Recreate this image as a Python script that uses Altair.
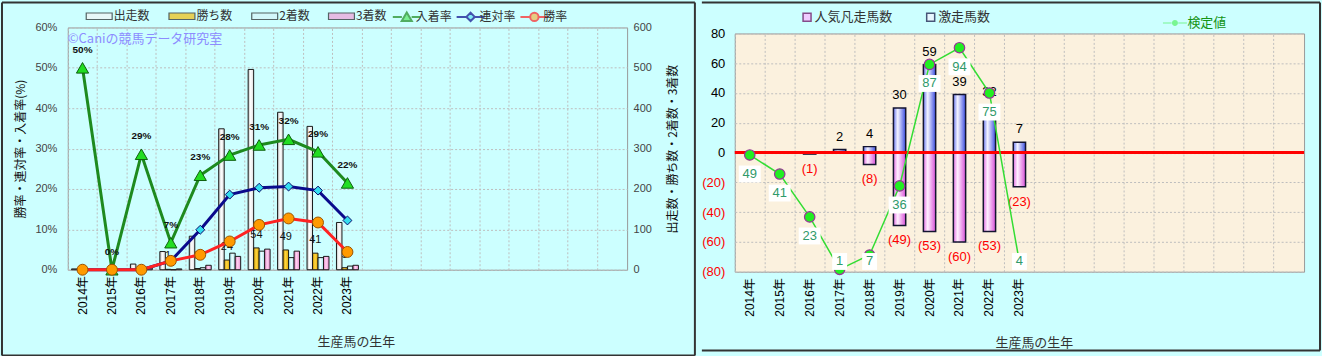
import altair as alt
import pandas as pd

FONT = "Liberation Sans, Noto Sans CJK JP, sans-serif"
JP = "Noto Sans CJK JP, sans-serif"

# ---------------- data ----------------
years = ["2014年", "2015年", "2016年", "2017年", "2018年",
         "2019年", "2020年", "2021年", "2022年", "2023年"]
blank_slots = ["_" + str(i) for i in range(1, 10)]
x_domain = years + blank_slots

bar_series = ["出走数", "勝ち数", "2着数", "3着数"]
runs = [2, 1, 14, 45, 83, 349, 496, 390, 355, 117]
wins = [0, 0, 0, 1, 3, 24, 54, 49, 41, 5]
seconds = [0, 0, 0, 0, 5, 41, 46, 30, 30, 9]
thirds = [1, 0, 4, 2, 11, 33, 51, 46, 33, 11]

line_series = ["入着率", "連対率", "勝率"]
place_rate = [50, 0, 28.6, 6.7, 23.4, 28.4, 30.9, 32.3, 29.2, 21.5]
quin_rate = [0, 0, 0, 2.2, 9.9, 18.6, 20.3, 20.6, 19.6, 12.2]
win_rate = [0, 0, 0, 2.2, 3.7, 7.0, 11.1, 12.7, 11.7, 4.4]

right_series = ["人気凡走馬数", "激走馬数"]
upset = [0, 0, 0, 2, 4, 30, 59, 39, 32, 7]
flop = [0, 0, 1, 0, 8, 49, 53, 60, 53, 23]
test_series = ["検定値"]
test_value = [49, 41, 23, 1, 7, 36, 87, 94, 75, 4]

watermark = "©Caniの競馬データ研究室"
left_y_title = "勝率・連対率・入着率(%)"
right_y_title = "出走数・勝ち数・2着数・3着数"
x_title = "生産馬の生年"

# ---------------- tables ----------------
bars_df = pd.DataFrame({
    "year": years * 4,
    "series": sum([[s] * len(years) for s in bar_series], []),
    "value": runs + wins + seconds + thirds,
})
wins_df = pd.DataFrame({"year": years, "value": wins, "series": "勝ち数"})
lines_df = pd.DataFrame({
    "year": years * 3,
    "series": sum([[s] * len(years) for s in line_series], []),
    "rate": place_rate + quin_rate + win_rate,
})
place_df = pd.DataFrame({"year": years, "rate": place_rate})
right_df = pd.DataFrame({"year": years, "upset": upset, "flop": flop, "test": test_value})
legend_a_df = pd.DataFrame({"rs": right_series})
legend_b_df = pd.DataFrame({"ls": test_series})
legend_l_df = pd.DataFrame({"series": line_series})
legend_bar_df = pd.DataFrame({"series": bar_series})
one_row = pd.DataFrame({"d": [0]})

# ---------------- shared pieces ----------------
GRID = "#BEBEBE"
FRAME = "#333333"
xs = alt.Scale(domain=x_domain, paddingInner=0, paddingOuter=0)
off_scale = alt.Scale(domain=bar_series, paddingInner=0, paddingOuter=0.68)


def x_label_axis(title_x, title_y):
    return alt.Axis(title=x_title, labelAngle=270,
                    labelExpr="indexof(datum.label, '_') == 0 ? '' : datum.label",
                    ticks=False, domain=False, grid=False, labelPadding=6,
                    labelFontSize=12, labelColor="#000", labelFont=FONT,
                    titleFont=JP, titleFontSize=13, titleColor="#333",
                    titleFontWeight="normal", titleX=title_x, titleY=title_y)


x_grid_axis = alt.Axis(orient="top", title=None, labels=False, ticks=False,
                       domain=False, grid=True, bandPosition=0,
                       gridDash=[2, 2], gridColor=GRID)


def grad(stops):
    return alt.Gradient(gradient="linear", x1=0, x2=1, y1=0, y2=0,
                        stops=[alt.GradientStop(offset=o, color=c) for o, c in stops])


def frame_line(**enc):
    # decorative panel frame line, placed in pixels relative to a plot origin
    return alt.Chart(one_row).mark_rule(color=FRAME, strokeWidth=2).encode(
        **{k: alt.value(v) for k, v in enc.items()})


# ---------------- left chart ----------------
count_scale = alt.Scale(domain=[0, 600], nice=False)
pct_scale = alt.Scale(domain=[0, 60], nice=False)

count_axis = alt.Axis(orient="right", values=list(range(0, 601, 100)),
                      title=right_y_title, titleAngle=270, grid=False,
                      ticks=False, domain=False, labelPadding=6,
                      labelFontSize=11, labelColor="#444", labelFont=FONT,
                      titleFont=JP, titleFontSize=12, titleColor="#111",
                      titleFontWeight="normal", titlePadding=28)
pct_axis = alt.Axis(orient="left", values=list(range(0, 61, 10)),
                    labelExpr="datum.value + '%'", title=left_y_title,
                    grid=True, gridDash=[2, 2], gridColor=GRID, ticks=False,
                    domain=False, labelPadding=11, labelFontSize=11,
                    labelColor="#444", labelFont=FONT, titleFont=JP,
                    titleFontSize=12, titleColor="#111",
                    titleFontWeight="normal", titlePadding=7)
left_x_axis = x_label_axis(289, 66)

bar_fills = {
    "出走数": grad([(0, "#BDBDBD"), (0.45, "#FFFFFF"), (1, "#DCDCDC")]),
    "勝ち数": grad([(0, "#C89200"), (0.45, "#FFD640"), (1, "#E2A800")]),
    "2着数": grad([(0, "#8ED6E0"), (0.45, "#EFFFFF"), (1, "#A6E6EE")]),
    "3着数": grad([(0, "#DC7CBE"), (0.45, "#FFD2F0"), (1, "#E890D2")]),
}
bar_legend_colors = ["#F4F4F4", "#F0BE10", "#D6F6F8", "#F0A0D8"]

bar_layers = []
for s in bar_series:
    bar_layers.append(
        alt.Chart(bars_df).transform_filter(alt.datum.series == s)
        .mark_bar(fill=bar_fills[s], stroke="#1A1A1A", strokeWidth=1)
        .encode(
            x=alt.X("year:N", scale=xs, axis=left_x_axis),
            xOffset=alt.XOffset("series:N", scale=off_scale),
            y=alt.Y("value:Q", scale=count_scale, axis=count_axis),
        )
    )

wins_labels = (
    alt.Chart(wins_df).transform_filter("datum.value > 0")
    .mark_text(dy=-13, fontSize=11, font=FONT, color="#111")
    .encode(x=alt.X("year:N", scale=xs, axis=left_x_axis),
            xOffset=alt.XOffset("series:N", scale=off_scale),
            y=alt.Y("value:Q", scale=count_scale, axis=count_axis),
            text="value:Q")
)

bar_rect_path = "M-2,-0.5H2V0.5H-2Z"
bar_legend = alt.Legend(title=None, orient="none", direction="horizontal",
                        legendX=24, legendY=-19, symbolSize=169,
                        labelFont=JP, labelFontSize=12, labelColor="#333",
                        labelOffset=7, columnPadding=16,
                        symbolStrokeColor="#222", symbolStrokeWidth=1.2)
bar_legend_layer = (
    alt.Chart(legend_bar_df).transform_filter("false")
    .mark_point(filled=True, shape=bar_rect_path, stroke="#222", strokeWidth=1.2)
    .encode(color=alt.Color("series:N",
                            scale=alt.Scale(domain=bar_series, range=bar_legend_colors),
                            legend=bar_legend))
)

left_bars = alt.layer(*bar_layers, wins_labels, bar_legend_layer)

line_colors = {"入着率": "#1E8A1E", "連対率": "#0A0A8C", "勝率": "#FF2222"}
marker_fill = {"入着率": "#22DD22", "連対率": "#33DDEE", "勝率": "#FF9A00"}
marker_stroke = {"入着率": "#0E5E0E", "連対率": "#0A0A6C", "勝率": "#9A5200"}
marker_shape = {"入着率": "triangle-up", "連対率": "diamond", "勝率": "circle"}
marker_size = {"入着率": 150, "連対率": 80, "勝率": 120}

line_layers = []
for s in line_series:
    line_layers.append(
        alt.Chart(lines_df).transform_filter(alt.datum.series == s)
        .mark_line(color=line_colors[s], strokeWidth=3)
        .encode(x=alt.X("year:N", scale=xs, axis=x_grid_axis),
                y=alt.Y("rate:Q", scale=pct_scale, axis=pct_axis))
    )
point_layers = []
for s in line_series:
    point_layers.append(
        alt.Chart(lines_df).transform_filter(alt.datum.series == s)
        .mark_point(filled=True, shape=marker_shape[s], size=marker_size[s],
                    fill=marker_fill[s], stroke=marker_stroke[s], strokeWidth=1,
                    opacity=1)
        .encode(x=alt.X("year:N", scale=xs, axis=x_grid_axis),
                y=alt.Y("rate:Q", scale=pct_scale, axis=pct_axis))
    )

place_labels = (
    alt.Chart(place_df)
    .transform_calculate(lbl="format(datum.rate, '.0f') + '%'")
    .mark_text(dy=-18, fontSize=10, fontWeight="bold", font=FONT, color="#111")
    .encode(x=alt.X("year:N", scale=xs, axis=x_grid_axis),
            y=alt.Y("rate:Q", scale=pct_scale, axis=pct_axis),
            text="lbl:N")
)

legend_paths = [
    "M-2,0H-0.7M0.7,0H2M0,-0.65L0.72,0.55H-0.72Z",
    "M-2,0H-0.6M0.6,0H2M0,-0.6L0.6,0L0,0.6L-0.6,0Z",
    "M-2,0H-0.6M0.6,0H2M0.6,0A0.6,0.6 0 1,1 -0.6,0A0.6,0.6 0 1,1 0.6,0Z",
]
line_legend = alt.Legend(title=None, orient="none", direction="horizontal",
                         legendX=332, legendY=-19, symbolSize=196,
                         labelFont=JP, labelFontSize=12, labelColor="#333",
                         labelOffset=1, columnPadding=0, symbolStrokeWidth=2)
line_legend_layer = (
    alt.Chart(legend_l_df).transform_filter("false")
    .mark_point(filled=True, strokeWidth=2)
    .encode(
        fill=alt.Fill("series:N", scale=alt.Scale(domain=line_series,
                      range=[marker_fill[s] for s in line_series]), legend=line_legend),
        stroke=alt.Stroke("series:N", scale=alt.Scale(domain=line_series,
                          range=[line_colors[s] for s in line_series]), legend=line_legend),
        shape=alt.Shape("series:N", scale=alt.Scale(domain=line_series,
                        range=legend_paths), legend=line_legend),
    )
)

watermark_layer = (
    alt.Chart(pd.DataFrame({"t": [watermark]}))
    .mark_text(align="left", baseline="middle", color="#8C8CFF", fontSize=13, font=JP)
    .encode(x=alt.value(0), y=alt.value(12), text="t:N")
)

left_frame = [
    frame_line(x=629, y=-25, y2=329),      # divider between the panels
    frame_line(x=-66, y=-25, y2=329),      # outer left edge
    frame_line(x=-66, x2=629, y=-25),      # top edge
    frame_line(x=-66, x2=629, y=329),      # bottom edge
]

left_lines = alt.layer(*line_layers, *point_layers, place_labels,
                       line_legend_layer, watermark_layer, *left_frame)

left = (alt.layer(left_bars, left_lines)
        .resolve_scale(y="independent")
        .resolve_axis(x="independent", y="independent")
        .properties(width=561, height=243))

# ---------------- right chart ----------------
yr = alt.Scale(domain=[-80, 80], nice=False)
test_scale = alt.Scale(domain=[0, 100], nice=False)
yr_axis = alt.Axis(values=list(range(-80, 81, 20)),
                   labelExpr="datum.value < 0 ? '(' + (-datum.value) + ')' : '' + datum.value",
                   labelColor={"condition": {"test": "datum.value < 0", "value": "#FF0000"},
                               "value": "#000000"},
                   title=None, grid=True, gridDash=[2, 2], gridColor=GRID,
                   ticks=False, domain=False, labelPadding=10,
                   labelFontSize=13, labelFont=FONT)
right_x_axis = x_label_axis(300, 65)

blue_fill = grad([(0, "#6C7AF0"), (0.35, "#F4F4FF"), (1, "#3C4CE0")])
pink_fill = grad([(0, "#E470E4"), (0.35, "#FFF0FF"), (1, "#D850D8")])

blue_bars = (
    alt.Chart(right_df).transform_filter("datum.upset > 0")
    .transform_calculate(v="datum.upset")
    .mark_bar(width=alt.RelativeBandSize(0.41), fill=blue_fill,
              stroke="#141430", strokeWidth=1.5)
    .encode(x=alt.X("year:N", scale=xs, axis=right_x_axis),
            y=alt.Y("v:Q", scale=yr, axis=yr_axis))
)
pink_bars = (
    alt.Chart(right_df).transform_filter("datum.flop > 0")
    .transform_calculate(v="-datum.flop")
    .mark_bar(width=alt.RelativeBandSize(0.41), fill=pink_fill,
              stroke="#141430", strokeWidth=1.5)
    .encode(x=alt.X("year:N", scale=xs, axis=right_x_axis),
            y=alt.Y("v:Q", scale=yr, axis=yr_axis))
)
blue_labels = (
    alt.Chart(right_df).transform_filter("datum.upset > 0")
    .transform_calculate(v="datum.upset")
    .mark_text(dy=-13, fontSize=13, font=FONT, color="#000")
    .encode(x=alt.X("year:N", scale=xs, axis=right_x_axis),
            y=alt.Y("v:Q", scale=yr, axis=yr_axis), text="upset:Q")
)
pink_labels = (
    alt.Chart(right_df).transform_filter("datum.flop > 0")
    .transform_calculate(v="-datum.flop", lbl="'(' + datum.flop + ')'")
    .mark_text(dy=15, fontSize=13, font=FONT, color="#FF0000")
    .encode(x=alt.X("year:N", scale=xs, axis=right_x_axis),
            y=alt.Y("v:Q", scale=yr, axis=yr_axis), text="lbl:N")
)
zero_rule = (
    alt.Chart(pd.DataFrame({"v": [0]}))
    .mark_rule(color="#FF0000", strokeWidth=3)
    .encode(y=alt.Y("v:Q", scale=yr, axis=yr_axis))
)
right_bars = alt.layer(blue_bars, pink_bars, blue_labels, pink_labels, zero_rule)

green_line = (
    alt.Chart(right_df)
    .mark_line(color="#33DD33", strokeWidth=1.5)
    .encode(x=alt.X("year:N", scale=xs, axis=x_grid_axis),
            y=alt.Y("test:Q", scale=test_scale, axis=None))
)
green_points = (
    alt.Chart(right_df)
    .mark_point(filled=True, shape="circle", size=110, fill="#22EE22",
                stroke="#993399", strokeWidth=1.2, opacity=1)
    .encode(x=alt.X("year:N", scale=xs, axis=x_grid_axis),
            y=alt.Y("test:Q", scale=test_scale, axis=None))
)
box_wide = "M-1,-0.77H1V0.77H-1Z"
box_narrow = "M-0.68,-0.77H0.68V0.77H-0.68Z"
label_pos = "max(datum.test - 8, 4.3)"
boxes_wide = (
    alt.Chart(right_df).transform_filter("datum.test >= 10")
    .transform_calculate(ly=label_pos)
    .mark_point(filled=True, shape=box_wide, size=484, fill="#FFFFFF",
                strokeWidth=0, opacity=1)
    .encode(x=alt.X("year:N", scale=xs, axis=x_grid_axis),
            y=alt.Y("ly:Q", scale=test_scale, axis=None))
)
boxes_narrow = (
    alt.Chart(right_df).transform_filter("datum.test < 10")
    .transform_calculate(ly=label_pos)
    .mark_point(filled=True, shape=box_narrow, size=484, fill="#FFFFFF",
                strokeWidth=0, opacity=1)
    .encode(x=alt.X("year:N", scale=xs, axis=x_grid_axis),
            y=alt.Y("ly:Q", scale=test_scale, axis=None))
)
test_labels = (
    alt.Chart(right_df)
    .transform_calculate(ly=label_pos)
    .mark_text(fontSize=13, font=FONT, color="#2F9A6A")
    .encode(x=alt.X("year:N", scale=xs, axis=x_grid_axis),
            y=alt.Y("ly:Q", scale=test_scale, axis=None), text="test:Q")
)
right_frame = [
    frame_line(x=587, y=-8, y2=318),       # outer right edge
    frame_line(x=-33, x2=587, y=318),      # bottom edge
]
right_lines = alt.layer(green_line, green_points, boxes_wide, boxes_narrow,
                        test_labels, *right_frame)

right = (alt.layer(right_bars, right_lines)
         .resolve_scale(y="independent")
         .resolve_axis(x="independent", y="independent")
         .properties(width=571, height=239))

# legends of the right panel live in a thin strip above it
legend_a = alt.Legend(title=None, orient="none", direction="horizontal",
                      legendX=66, legendY=-17, symbolSize=64,
                      labelFont=JP, labelFontSize=13, labelColor="#333",
                      labelOffset=1, columnPadding=30, symbolStrokeWidth=1.5)
legend_a_layer = (
    alt.Chart(legend_a_df).transform_filter("false")
    .mark_point(filled=True, shape="square", strokeWidth=1.5)
    .encode(
        color=alt.Color("rs:N", scale=alt.Scale(domain=right_series,
                        range=["#FFB6FF", "#F4F4FF"]), legend=legend_a),
        stroke=alt.Stroke("rs:N", scale=alt.Scale(domain=right_series,
                          range=["#66005A", "#101040"]), legend=legend_a),
    )
)
legend_b = alt.Legend(title=None, orient="none", direction="horizontal",
                      legendX=435, legendY=-11, symbolSize=144,
                      labelFont=JP, labelFontSize=13, labelColor="#149414",
                      labelOffset=6, symbolStrokeColor="#993399",
                      symbolStrokeWidth=1)
legend_b_layer = (
    alt.Chart(legend_b_df).transform_filter("false")
    .mark_point(filled=True, stroke="#993399", strokeWidth=1)
    .encode(
        fill=alt.Fill("ls:N", scale=alt.Scale(domain=test_series, range=["#22EE22"]),
                      legend=legend_b),
        shape=alt.Shape("ls:N", scale=alt.Scale(domain=test_series,
                        range=["M-2,-0.07H-0.55V0.07H-2ZM0.55,-0.07H2V0.07H0.55ZM0.5,0A0.5,0.5 0 1,1 -0.5,0A0.5,0.5 0 1,1 0.5,0Z"]),
                        legend=legend_b),
    )
)
strip_frame = [
    frame_line(x=-33, x2=587, y=-25),      # top edge of the right panel
    frame_line(x=587, y=-25, y2=1),        # top part of the outer right edge
]
legend_strip = (
    alt.layer(legend_a_layer, legend_b_layer, *strip_frame)
    .properties(width=571, height=1,
                view=alt.ViewBackground(fill="transparent", stroke="transparent"))
)

right_block = alt.vconcat(legend_strip, right, spacing=-7)

chart = (
    alt.hconcat(left, right_block, spacing=3)
    .resolve_scale(color="independent", fill="independent",
                   stroke="independent", shape="independent")
    .resolve_legend(color="independent", fill="independent",
                    stroke="independent", shape="independent")
    .properties(background="#CCFFFF",
                padding={"left": 0, "top": 0, "right": 0, "bottom": 0})
    .configure_view(fill="#FBF1DE", stroke="#9A9A9A", strokeWidth=1)
)

chart.save("out.html", embed_options={"renderer": "svg", "actions": False})
